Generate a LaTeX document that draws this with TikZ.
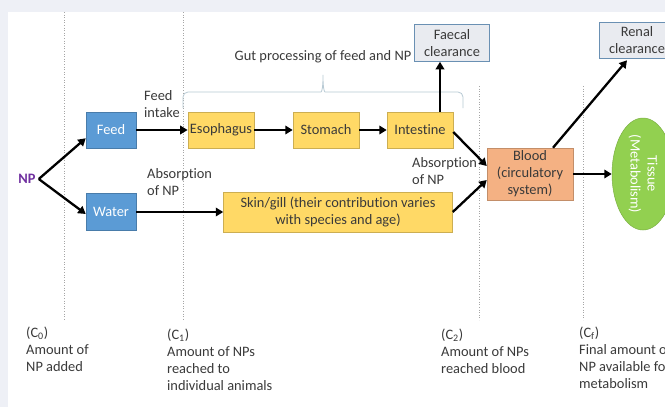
\documentclass[tikz,border=0pt]{standalone}
\usepackage{fontspec}
\setmainfont{Carlito}[Ligatures=NoCommon]
\usetikzlibrary{arrows.meta,shapes.geometric}
\usepackage{xcolor}
\definecolor{outerbg}{HTML}{EEF0F6}
\definecolor{txtgray}{HTML}{3A3A3A}
\definecolor{npviolet}{HTML}{7030A0}
\definecolor{feedblue}{HTML}{5B9BD5}
\definecolor{gutyellow}{HTML}{FFD966}
\definecolor{bloodorange}{HTML}{F4B183}
\definecolor{cleargray}{HTML}{E9EBF0}
\definecolor{tissuegreen}{HTML}{92D050}
\definecolor{bracecol}{HTML}{B8CAD4}

\begin{document}
\begin{tikzpicture}[x=1pt,y=-1pt,
  font=\fontsize{14.4}{17}\selectfont, text=txtgray,
  box/.style={draw=#1!80!black, fill=#1, line width=0.5pt, minimum height=36pt, inner sep=2pt, align=center},
  srcbox/.style={box=feedblue, minimum width=50pt, text=white},
  gutbox/.style={box=gutyellow, minimum width=66pt},
  clearbox/.style={draw=feedblue!60!gray, fill=cleargray, line width=0.6pt, minimum width=76pt, minimum height=36pt, inner sep=1pt, align=center},
  lbl/.style={align=left, inner sep=1pt},
  stage/.style={dotted, gray!70, line width=0.6pt},
  flow/.style={-{Triangle[length=7.5pt,width=8.5pt]}, line width=2.3pt, black}
]
\useasboundingbox (0,0) rectangle (665,407);
\fill[outerbg] (0,0) rectangle (665,407);
\fill[white] (8,12) rectangle (665,407);
\clip (0,0) rectangle (665,407);

% stages
\draw[stage] (64,12) -- (64,320);
\draw[stage] (183,12) -- (183,320);
\draw[stage] (479,86) -- (479,320);
\draw[stage] (583,86) -- (583,320);

% boxes
\node[font=\fontsize{14.4}{17}\selectfont\bfseries, text=npviolet, inner sep=3pt] (np) at (27,179) {NP};
\node[srcbox] (feed) at (111,130) {Feed};
\node[srcbox, minimum height=37pt] (water) at (111,212) {Water};
\node[gutbox] (esoph) at (221,130) {Esophagus};
\node[gutbox] (stomach) at (326,130) {Stomach};
\node[gutbox] (intestine) at (420,130) {Intestine};
\node[box=gutyellow, minimum width=229pt, minimum height=40pt] (skin) at (338,212) {Skin/gill (their contribution varies\\with species and age)};
\node[box=bloodorange, minimum width=86pt, minimum height=52pt] (blood) at (530,174) {Blood\\(circulatory\\system)};
\node[clearbox, minimum width=75pt, minimum height=37pt] (faecal) at (452,43) {Faecal\\clearance};
\node[clearbox] (renal) at (637,40) {Renal\\clearance};
\node[ellipse, draw=tissuegreen!85!black, fill=tissuegreen, line width=0.5pt, rotate=-90, minimum width=112pt, minimum height=62pt, inner sep=0pt, align=center, text=white] (tissue) at (643,174) {Tissue\\(Metabolism)};

% gut brace
\draw[bracecol, line width=0.8pt, rounded corners=5pt] (183,108) |- (316,92) .. controls (322,92) and (323,86) .. (323,72) .. controls (323,86) and (324,92) .. (330,92) -| (463,108);
\node[lbl] (gut) at (323,57) {Gut processing of feed and NP};

% labels
\node[lbl, anchor=north west] (intake) at (143,89) {Feed\\intake};
\node[lbl, anchor=north west] (absorbskin) at (146,167) {Absorption\\of NP};
\node[lbl, anchor=north west] (absorbgut) at (411,156) {Absorption\\of NP};

% flows
\draw[flow] (np.east) -- ([yshift=10pt]feed.south west);
\draw[flow] (np.east) -- ([yshift=-2pt]water.west);
\draw[flow] (feed) -- (esoph);
\draw[flow] (esoph) -- (stomach);
\draw[flow] (stomach) -- (intestine);
\draw[flow] ([xshift=20pt]intestine.north) -- ([xshift=20pt]intestine.north |- faecal.south);
\draw[flow] (water) -- (skin);
\draw[flow] ([yshift=-2pt]intestine.east) -- ([yshift=8pt]blood.west);
\draw[flow] (skin.east) -- ([yshift=-6pt]blood.west);
\draw[flow] (blood) -- (tissue);
\draw[flow] ([xshift=23pt]blood.north) -- ([xshift=-10pt,yshift=-2pt]renal.south);

% stage labels
\node[lbl, anchor=north west] (czero) at (25,326) {(C\textsubscript{0})\\Amount of\\NP added};
\node[lbl, anchor=north west] (cone) at (166,328) {(C\textsubscript{1})\\Amount of NPs\\reached to\\individual animals};
\node[lbl, anchor=north west] (ctwo) at (440,328) {(C\textsubscript{2})\\Amount of NPs\\reached blood};
\node[lbl, anchor=north west] (cfinal) at (578,326) {(C\textsubscript{f})\\Final amount of\\NP available for\\metabolism};
\end{tikzpicture}
\end{document}
